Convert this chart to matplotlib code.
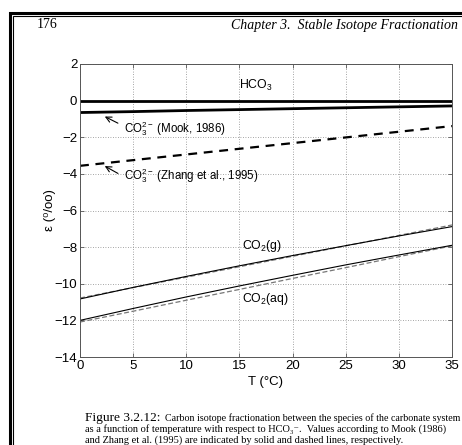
import matplotlib
matplotlib.use("Agg")
import matplotlib.pyplot as plt
from matplotlib.lines import Line2D

plt.rcParams['font.family'] = ['Liberation Sans', 'DejaVu Sans']
plt.rcParams['mathtext.fontset'] = 'custom'
plt.rcParams['mathtext.rm'] = 'Liberation Sans'
plt.rcParams['mathtext.it'] = 'Liberation Sans'

# temperature (deg C) and fractionation vs HCO3- (per mil)
temp = [0, 5, 10, 15, 20, 25, 30, 35]
hco3 = [0, 0, 0, 0, 0, 0, 0, 0]
co3_mook = [-0.65, -0.60, -0.54, -0.49, -0.44, -0.39, -0.34, -0.29]
co3_zhang = [-3.56, -3.25, -2.94, -2.63, -2.32, -2.01, -1.70, -1.39]
co2g_mook = [-10.83, -10.20, -9.60, -9.02, -8.46, -7.92, -7.39, -6.88]
co2g_zhang = [-10.78, -10.21, -9.64, -9.07, -8.50, -7.93, -7.36, -6.79]
co2aq_mook = [-12.00, -11.35, -10.72, -10.12, -9.54, -8.97, -8.43, -7.90]
co2aq_zhang = [-12.09, -11.50, -10.90, -10.31, -9.71, -9.12, -8.52, -7.93]

x_ticks = [0, 5, 10, 15, 20, 25, 30, 35]
y_ticks = [2, 0, -2, -4, -6, -8, -10, -12, -14]

W, H = 462, 445
fig = plt.figure(figsize=(W / 100, H / 100), dpi=100)
fig.patch.set_facecolor('white')


def px(x, y):
    return x / W, 1 - y / H


# page border (thick + thin double line)
for lw, off in [(2.2, 9.5), (0.8, 12.8)]:
    fig.add_artist(Line2D([off / W, off / W, 1.0], [0.0, 1 - (off + 3.5) / H, 1 - (off + 3.5) / H],
                          transform=fig.transFigure, color='black', lw=lw,
                          solid_joinstyle='miter'))

serif = ['Liberation Serif', 'DejaVu Serif']

# header
fig.text(*px(37, 25), "176", family=serif, fontsize=10, va='center', ha='left')
fig.text(*px(458, 25), "Chapter 3.  Stable Isotope Fractionation", family=serif,
         style='italic', fontsize=10, va='center', ha='right')

ax = fig.add_axes([80 / W, 1 - 357 / H, 372 / W, 293 / H])
ax.plot(temp, hco3, color='black', lw=2.0)
ax.plot(temp, co3_mook, color='black', lw=2.0)
ax.plot(temp, co3_zhang, color='black', lw=1.6, ls=(0, (4, 3)))
ax.plot(temp, co2g_zhang, color='#777777', lw=0.9, ls=(0, (4, 2)))
ax.plot(temp, co2g_mook, color='black', lw=0.8)
ax.plot(temp, co2aq_zhang, color='#777777', lw=0.9, ls=(0, (4, 2)))
ax.plot(temp, co2aq_mook, color='black', lw=0.8)

ax.set_xlim(0, 35)
ax.set_ylim(-14, 2)
ax.set_xticks(x_ticks)
ax.set_yticks(y_ticks)
ax.set_yticklabels([str(v).replace('-', '\u2212') for v in y_ticks])
ax.tick_params(direction='in', length=3, width=0.6, color='#555555', labelsize=9.5,
               top=True, right=True, pad=2)
ax.grid(True, color='#888888', ls=(0, (1, 2)), lw=0.6)
for s in ax.spines.values():
    s.set_color('#555555')
    s.set_linewidth(0.7)

ax.set_xlabel('T (\u00b0C)', fontsize=9.5, labelpad=3)
ax.set_ylabel('\u03b5 (\u2070/oo)', fontsize=9.5, labelpad=-1)

ax.text(15.0, 0.85, r'HCO$_3$', fontsize=8.8, va='center', ha='left')
ax.text(4.1, -1.52, r'CO$_3^{2-}$ (Mook, 1986)', fontsize=8.3, va='center', ha='left')
ax.text(4.1, -4.12, r'CO$_3^{2-}$ (Zhang et al., 1995)', fontsize=8.3, va='center', ha='left')
ax.text(15.2, -7.94, r'CO$_2$(g)', fontsize=8.8, va='center', ha='left')
ax.text(15.2, -10.84, r'CO$_2$(aq)', fontsize=8.8, va='center', ha='left')
ax.annotate('', xy=(2.1, -0.8), xytext=(3.8, -1.3),
            arrowprops=dict(arrowstyle='->', lw=0.8, color='black'))
ax.annotate('', xy=(2.1, -3.5), xytext=(3.8, -4.05),
            arrowprops=dict(arrowstyle='->', lw=0.8, color='black'))

# caption
fig.text(*px(85, 418), "Figure 3.2.12:", family=serif, fontsize=9.6, va='center', ha='left')
fig.text(*px(165, 418), "Carbon isotope fractionation between the species of the carbonate system",
         family=serif, fontsize=7.2, va='center', ha='left')
fig.text(*px(85, 429), "as a function of temperature with respect to HCO\u2083\u207b.  Values according to Mook (1986)",
         family=serif, fontsize=7.5, va='center', ha='left')
fig.text(*px(85, 440), "and Zhang et al. (1995) are indicated by solid and dashed lines, respectively.",
         family=serif, fontsize=7.5, va='center', ha='left')

fig.savefig('out.png', dpi=100)
